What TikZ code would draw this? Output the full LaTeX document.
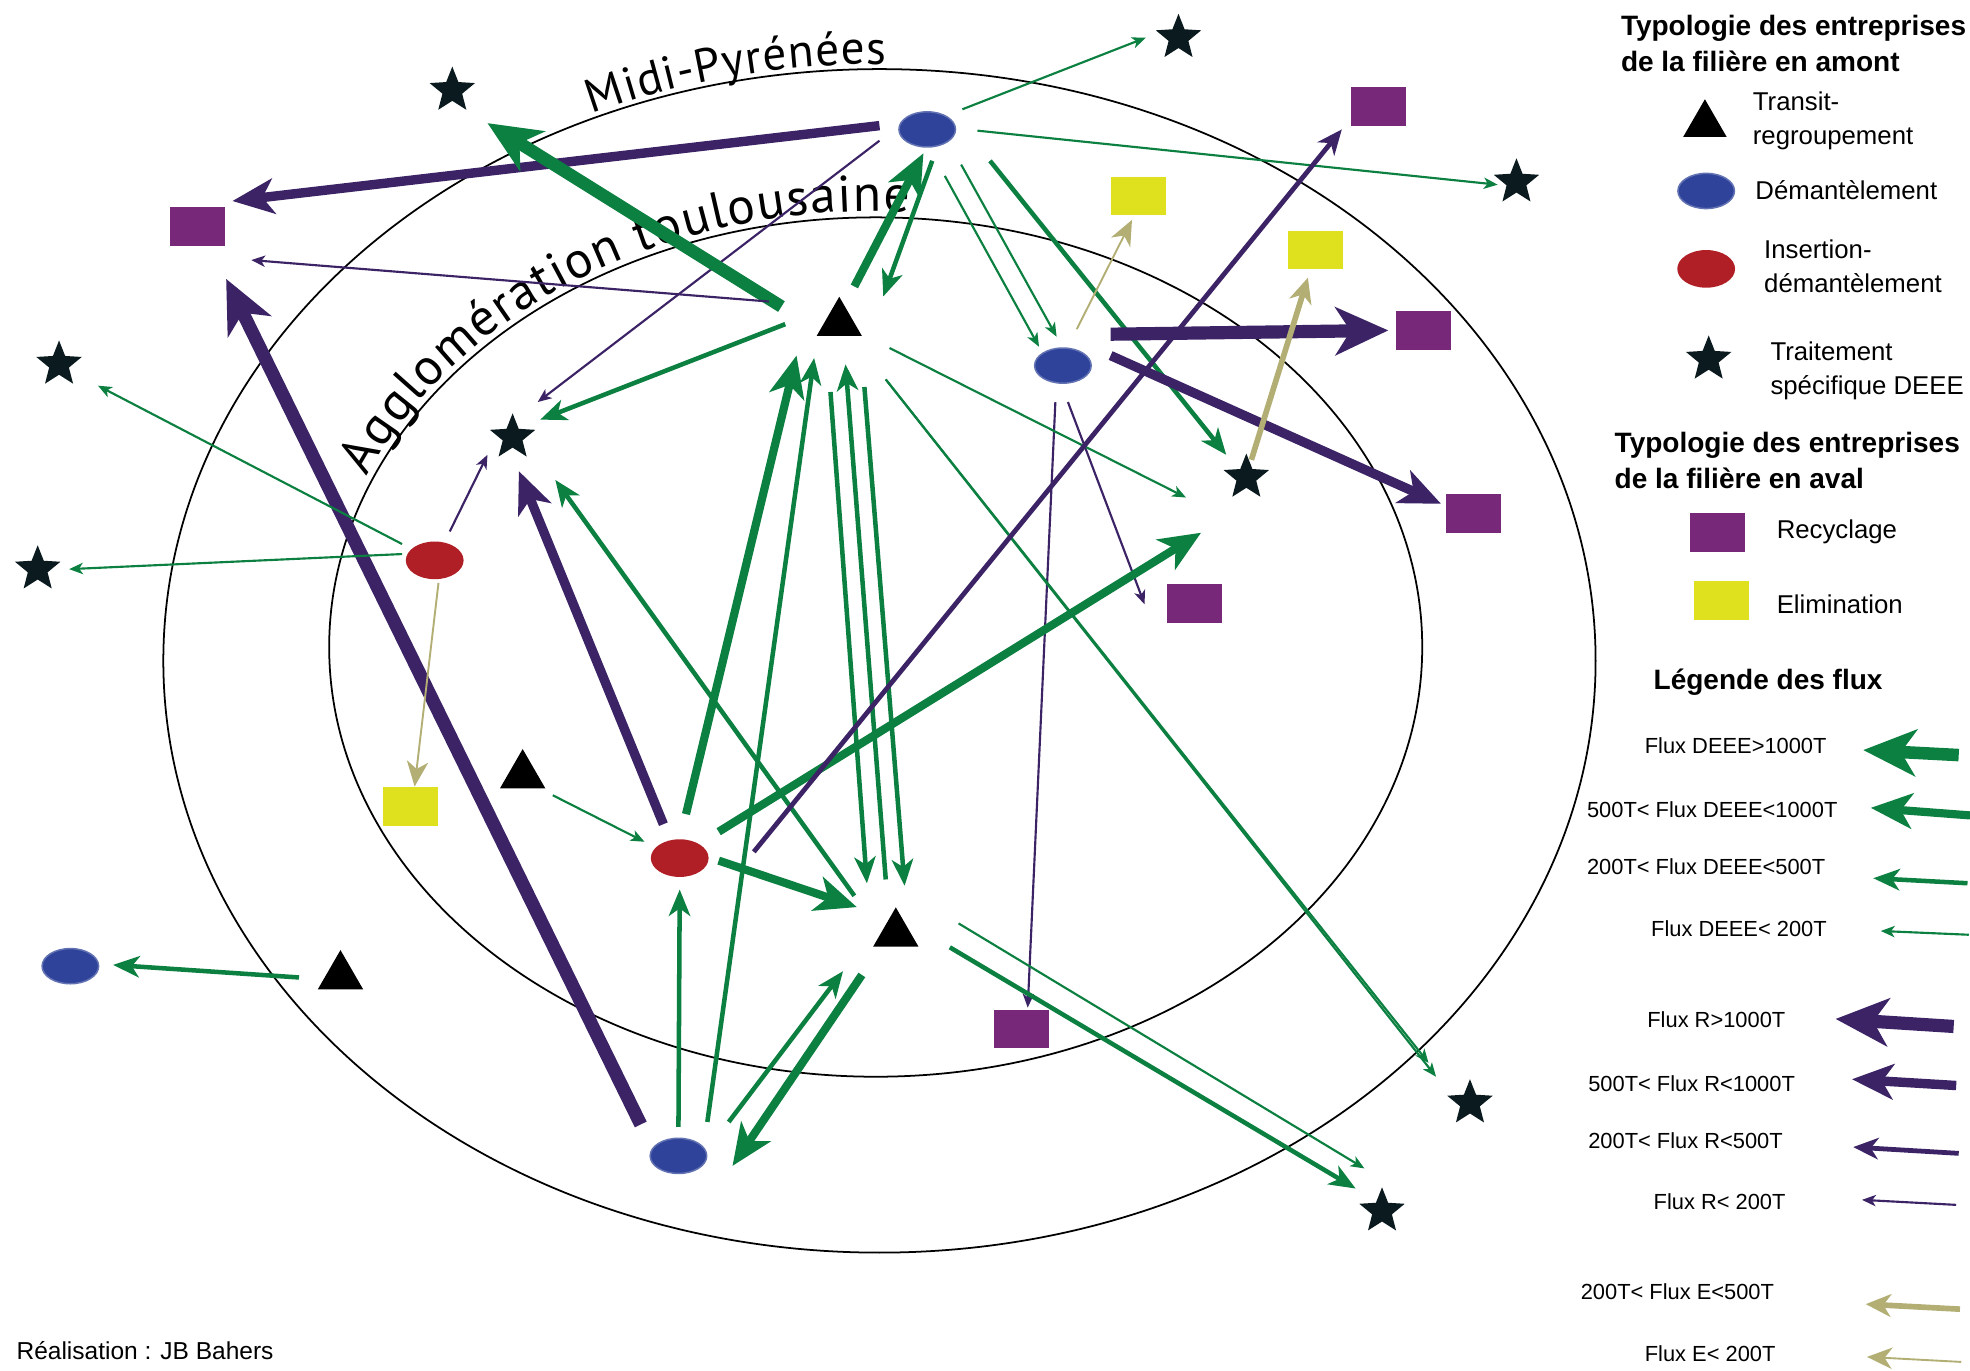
\documentclass[tikz,border=0pt]{standalone}
\usepackage{fontspec}
\setmainfont{Liberation Sans}
\newfontfamily\regionfont{PT Sans}
\usetikzlibrary{arrows.meta,shapes.geometric,calc,decorations.text}
\definecolor{flg}{RGB}{11,128,64}
\definecolor{flp}{RGB}{59,35,102}
\definecolor{fle}{RGB}{178,174,116}
\definecolor{boxp}{RGB}{119,40,121}
\definecolor{boxy}{RGB}{223,225,30}
\definecolor{nblue}{RGB}{46,67,153}
\definecolor{nred}{RGB}{176,31,37}
\definecolor{nstar}{RGB}{10,26,30}
\begin{document}
\begin{tikzpicture}[x=1pt,y=1pt,
  demant/.style={ellipse, fill=nblue, draw=nblue!75!white, line width=1.2pt, minimum width=45pt, minimum height=28pt, inner sep=0pt},
  insert/.style={ellipse, fill=nred, minimum width=46pt, minimum height=30pt, inner sep=0pt},
  transit/.style={regular polygon, regular polygon sides=3, fill=black, minimum size=41.6pt, inner sep=0pt},
  traite/.style={star, star points=5, star point ratio=2.3, fill=nstar, minimum size=38pt, inner sep=0pt},
  recyc/.style={rectangle, fill=boxp, minimum width=44pt, minimum height=31pt, inner sep=0pt},
  elim/.style={rectangle, fill=boxy, minimum width=44pt, minimum height=31pt, inner sep=0pt},
  region/.style={ellipse, draw=black, line width=1.4pt, inner sep=0pt},
  g1/.style={draw=flg, line width=1.7pt, -{Stealth[length=11pt,width=9pt,inset=3pt]}},
  g2/.style={draw=flg, line width=3.6pt, -{Stealth[length=21pt,width=17pt,inset=6pt]}},
  g3/.style={draw=flg, line width=6.5pt, -{Stealth[length=33pt,width=28pt,inset=9pt]}},
  g4/.style={draw=flg, line width=10pt, -{Stealth[length=42pt,width=37pt,inset=12pt]}},
  p1/.style={draw=flp, line width=1.7pt, -{Stealth[length=11pt,width=9pt,inset=3pt]}},
  p2/.style={draw=flp, line width=3.8pt, -{Stealth[length=20pt,width=17pt,inset=6pt]}},
  p3/.style={draw=flp, line width=7.5pt, -{Stealth[length=33pt,width=28pt,inset=9pt]}},
  p4/.style={draw=flp, line width=10.5pt, -{Stealth[length=42pt,width=38pt,inset=12pt]}},
  e1/.style={draw=fle, line width=1.5pt, -{Stealth[length=20pt,width=17pt,inset=6pt]}},
  e2/.style={draw=fle, line width=4.5pt, -{Stealth[length=20pt,width=18pt,inset=6pt]}},
  ttl/.style={anchor=base west, inner sep=0pt, font=\bfseries\fontsize{22.3}{26}\selectfont},
  itm/.style={anchor=base west, inner sep=0pt, font=\fontsize{20.5}{24}\selectfont},
  flx/.style={anchor=base west, inner sep=0pt, font=\fontsize{17.4}{20}\selectfont}
]
\fill[white] (0,0) rectangle (1568,-1091);
\useasboundingbox (0,0) rectangle (1568,-1091);

% regions
\node[region, minimum width=1140pt, minimum height=942pt] (midipy) at (700,-526) {};
\node[region, minimum width=870pt, minimum height=684pt] (agglo) at (697,-515) {};
\path[decorate, decoration={text along path, text align=fit to path,
  text={|\regionfont\fontsize{37.5}{38}\selectfont|Midi-Pyrénées}}]
  ([shift={(113.5:574 and 475)}]700,-526) arc[start angle=113.5, end angle=89.5, x radius=574, y radius=475];
\path[decorate, decoration={text along path, text align=fit to path,
  text={|\regionfont\fontsize{41}{41}\selectfont|Agglomération toulousaine}}]
  ([shift={(157:440 and 347)}]697,-515) arc[start angle=157, end angle=86.5, x radius=440, y radius=347];

% nodes
\node[demant] (B1) at (738,-103) {};
\node[demant] (B2) at (846,-291) {};
\node[demant] (B3) at (540,-920) {};
\node[demant] (B4) at (56,-769) {};
\node[insert] (R1) at (346,-446) {};
\node[insert] (R2) at (541,-683) {};
\node[transit] (T1) at (668,-257) {};
\node[transit] (T2) at (713,-743) {};
\node[transit] (T3) at (416,-617) {};
\node[transit] (T4) at (271,-777) {};
\node[traite] (S1) at (938,-30) {};
\node[traite] (S2) at (360,-72) {};
\node[traite] (S3) at (1207,-145) {};
\node[traite] (S4) at (47,-290) {};
\node[traite] (S5) at (408,-348) {};
\node[traite] (S6) at (992,-380) {};
\node[traite] (S7) at (30,-453) {};
\node[traite] (S8) at (1170,-878) {};
\node[traite] (S9) at (1100,-964) {};
\node[recyc] (P1) at (157,-180) {};
\node[recyc] (P2) at (1097,-85) {};
\node[recyc] (P3) at (1133,-263) {};
\node[recyc] (P4) at (1173,-409) {};
\node[recyc] (P5) at (951,-480) {};
\node[recyc] (P6) at (813,-819) {};
\node[elim] (Y1) at (906,-156) {};
\node[elim] (Y2) at (1047,-199) {};
\node[elim] (Y3) at (327,-642) {};

% flows
\draw[p3] ($(B1)+(-38,3)$) -- ($(P1)+(28,20)$);
\draw[g1] ($(B1)+(28,16)$) -- ($(S1)+(-26,0)$);
\draw[g1] ($(B1)+(40,-1)$) -- ($(S3)+(-15,-2)$);
\draw[p1] ($(B1)+(-38,-9)$) -- ($(S5)+(20,28)$);
\draw[g1] ($(B1)+(14,-37)$) -- ($(B2)+(-19,15)$);
\draw[g1] ($(B1)+(27,-28)$) -- ($(B2)+(-5,23)$);
\draw[g3] ($(T1)+(12,29)$) -- ($(B1)+(-3,-19)$);
\draw[g2] ($(B1)+(4,-25)$) -- ($(T1)+(35,21)$);
\draw[g2] ($(B1)+(50,-25)$) -- ($(S6)+(-16,18)$);
\draw[p4] ($(B2)+(38,25)$) -- ($(P3)+(-28,0)$);
\draw[p3] ($(B2)+(38,8)$) -- ($(P4)+(-26,8)$);
\draw[e1] ($(B2)+(11,29)$) -- ($(Y1)+(-5,-19)$);
\draw[p1] ($(B2)+(4,-29)$) -- ($(P5)+(-40,-1)$);
\draw[p1] ($(B2)+(-6,-29)$) -- ($(P6)+(5,17)$);
\draw[g4] ($(T1)+(-46,13)$) -- ($(S2)+(28,-26)$);
\draw[p1] ($(T1)+(-56,17)$) -- ($(P1)+(43,-27)$);
\draw[g2] ($(T1)+(-43,-1)$) -- ($(S5)+(22,14)$);
\draw[g1] ($(T1)+(40,-20)$) -- ($(S6)+(-48,-16)$);
\draw[g1] ($(T1)+(37,-45)$) -- ($(S8)+(-33,32)$);
\draw[g1] ($(T1)+(37,-45)$) -- ($(S8)+(-27,21)$);
\draw[g3] ($(R2)+(5,35)$) -- ($(T1)+(-34,-26)$);
\draw[g2] ($(B3)+(23,27)$) -- ($(T1)+(-20,-28)$);
\draw[g2] ($(T1)+(-7,-55)$) -- ($(T2)+(-23,40)$);
\draw[g2] ($(T2)+(-8,43)$) -- ($(T1)+(5,-33)$);
\draw[g2] ($(T1)+(20,-51)$) -- ($(T2)+(7,38)$);
\draw[g3] ($(R2)+(31,-2)$) -- ($(T2)+(-31,21)$);
\draw[g2] ($(T2)+(-33,30)$) -- ($(S5)+(34,-34)$);
\draw[g1] ($(T3)+(24,-16)$) -- ($(R2)+(-28,13)$);
\draw[g2] ($(T2)+(43,-11)$) -- ($(S9)+(-21,18)$);
\draw[g1] ($(T2)+(50,8)$) -- ($(S9)+(-14,34)$);
\draw[g3] ($(T2)+(-27,-33)$) -- ($(B3)+(43,-8)$);
\draw[g2] ($(B3)+(40,27)$) -- ($(T2)+(-42,-30)$);
\draw[g2] ($(B3)+(0,23)$) -- ($(R2)+(0,-25)$);
\draw[p4] ($(B3)+(-30,25)$) -- ($(P1)+(23,-42)$);
\draw[p3] ($(R2)+(-13,27)$) -- ($(S5)+(5,-27)$);
\draw[g3] ($(R2)+(31,21)$) -- ($(S6)+(-36,-44)$);
\draw[p2] ($(R2)+(59,5)$) -- ($(P2)+(-29,-18)$);
\draw[p1] ($(R1)+(12,23)$) -- ($(S5)+(-20,-14)$);
\draw[g1] ($(R1)+(-26,13)$) -- ($(S4)+(31,-17)$);
\draw[g1] ($(R1)+(-26,5)$) -- ($(S7)+(25,0)$);
\draw[e1] ($(R1)+(3,-18)$) -- ($(Y3)+(3,16)$);
\draw[g2] ($(T4)+(-33,-1)$) -- ($(B4)+(34,1)$);
\draw[e2] ($(S6)+(4,14)$) -- ($(Y2)+(-6,-22)$);

% legend
\node[ttl] (lt1) at (1290,-28) {Typologie des entreprises};
\node[ttl] (lt2) at (1290,-57) {de la filière en amont};
\node[transit, minimum size=40pt] (LT) at (1357,-99) {};
\node[itm] (lx1) at (1395,-88) {Transit-};
\node[itm] (lx2) at (1395,-115) {regroupement};
\node[demant] (LB) at (1358,-152) {};
\node[itm] (lx3) at (1397,-159) {Démantèlement};
\node[insert] (LR) at (1358,-214) {};
\node[itm] (lx4) at (1404,-206) {Insertion-};
\node[itm] (lx5) at (1404,-233) {démantèlement};
\node[traite] (LS) at (1360,-286) {};
\node[itm] (lx6) at (1409,-287) {Traitement};
\node[itm] (lx7) at (1409,-314) {spécifique DEEE};
\node[ttl] (lt3) at (1285,-360) {Typologie des entreprises};
\node[ttl] (lt4) at (1285,-389) {de la filière en aval};
\node[recyc] (LP) at (1367,-424) {};
\node[itm] (lx8) at (1414,-429) {Recyclage};
\node[elim] (LY) at (1370,-478) {};
\node[itm] (lx9) at (1414,-488) {Elimination};
\node[ttl] (lt5) at (1316,-549) {Légende des flux};

\node[flx] (f1) at (1309,-600) {Flux DEEE>1000T};
\node[flx] (f2) at (1263,-651) {500T< Flux DEEE<1000T};
\node[flx] (f3) at (1263,-696) {200T< Flux DEEE<500T};
\node[flx] (f4) at (1314,-745) {Flux DEEE< 200T};
\node[flx] (f5) at (1311,-818) {Flux R>1000T};
\node[flx] (f6) at (1264,-869) {500T< Flux R<1000T};
\node[flx] (f7) at (1264,-914) {200T< Flux R<500T};
\node[flx] (f8) at (1316,-963) {Flux R< 200T};
\node[flx] (f9) at (1258,-1034) {200T< Flux E<500T};
\node[flx] (f10) at (1309,-1084) {Flux E< 200T};

\coordinate (a1s) at (1559,-601); \coordinate (a1e) at (1483,-597);
\coordinate (a2s) at (1568,-649); \coordinate (a2e) at (1489,-643);
\coordinate (a3s) at (1566,-703); \coordinate (a3e) at (1491,-699);
\coordinate (a4s) at (1567,-744); \coordinate (a4e) at (1497,-741);
\coordinate (a5s) at (1555,-817); \coordinate (a5e) at (1461,-811);
\coordinate (a6s) at (1557,-864); \coordinate (a6e) at (1474,-859);
\coordinate (a7s) at (1559,-918); \coordinate (a7e) at (1475,-913);
\coordinate (a8s) at (1557,-959); \coordinate (a8e) at (1482,-955);
\coordinate (a9s) at (1560,-1042); \coordinate (a9e) at (1485,-1038);
\coordinate (a10s) at (1561,-1084); \coordinate (a10e) at (1486,-1080);
\draw[g4] (a1s) -- (a1e);
\draw[g3] (a2s) -- (a2e);
\draw[g2] (a3s) -- (a3e);
\draw[g1] (a4s) -- (a4e);
\draw[p4] (a5s) -- (a5e);
\draw[p3] (a6s) -- (a6e);
\draw[p2] (a7s) -- (a7e);
\draw[p1] (a8s) -- (a8e);
\draw[e2] (a9s) -- (a9e);
\draw[e1] (a10s) -- (a10e);

\node[anchor=base west, inner sep=0pt, font=\fontsize{19.5}{22}\selectfont] (credit) at (13,-1082) {Réalisation : JB Bahers};
\end{tikzpicture}
\end{document}
